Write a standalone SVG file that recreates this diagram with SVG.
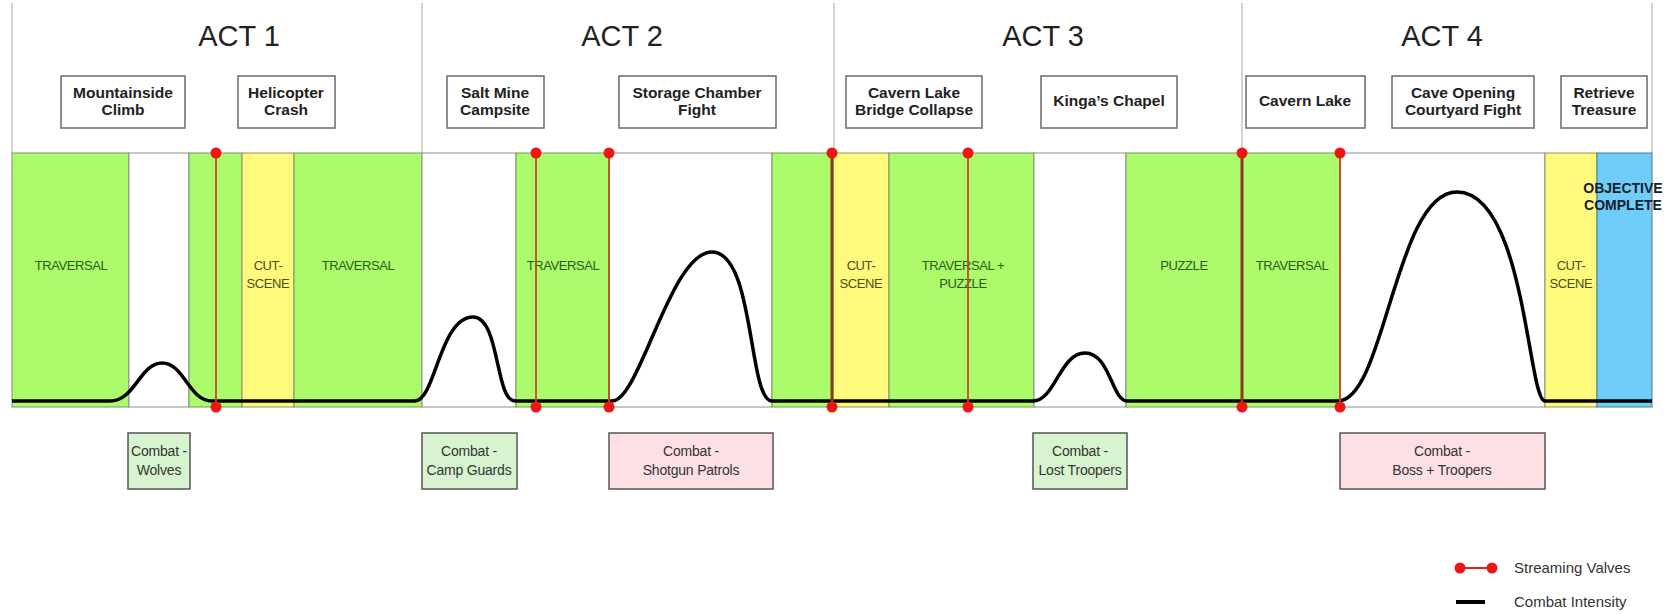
<svg xmlns="http://www.w3.org/2000/svg" width="1677" height="614" viewBox="0 0 1677 614">
<defs>
<style>
.bg{fill:#ffffff}
.div{stroke:#c4c4c4;stroke-width:1.5;fill:none}
.g{fill:#abfb6b;stroke:#7d8f6c;stroke-width:1}
.y{fill:#fff97c;stroke:#8d8f6c;stroke-width:1}
.b{fill:#6fcdf7;stroke:#4c7a8f;stroke-width:1}
.w{fill:#ffffff;stroke:#8e8e8e;stroke-width:1}
.act{font-family:"Liberation Sans",Arial,sans-serif;font-size:29px;fill:#222;text-anchor:middle}
.tb{fill:#ffffff;stroke:#6a6a6a;stroke-width:1.5}
.tt{font-family:"Liberation Sans",Arial,sans-serif;font-size:15.5px;font-weight:bold;fill:#222;text-anchor:middle}
.st{font-family:"Liberation Sans",Arial,sans-serif;font-size:13px;fill:#2f5a1c;text-anchor:middle;letter-spacing:-0.4px}
.sy{font-family:"Liberation Sans",Arial,sans-serif;font-size:13px;fill:#4d4d1e;text-anchor:middle;letter-spacing:-0.4px}
.obj{font-family:"Liberation Sans",Arial,sans-serif;font-size:14px;font-weight:bold;fill:#14202c;text-anchor:middle}
.cg{fill:#d8f3cf;stroke:#555;stroke-width:1.5}
.cp{fill:#fde0e4;stroke:#555;stroke-width:1.5}
.ct{font-family:"Liberation Sans",Arial,sans-serif;font-size:14px;fill:#333;text-anchor:middle;letter-spacing:-0.2px}
.valve{stroke:#c8461e;stroke-width:1.8}
.valveb{stroke:#8a3a1c;stroke-width:3}
.dot{fill:#ee1515}
.curve{fill:none;stroke:#000;stroke-width:3.5;stroke-linejoin:round}
.leg{font-family:"Liberation Sans",Arial,sans-serif;font-size:15px;fill:#333}
</style>
</defs>
<rect class="bg" x="0" y="0" width="1677" height="614"/>

<g id="act-dividers">
<line class="div" x1="12" y1="3" x2="12" y2="153"/>
<line class="div" x1="422" y1="3" x2="422" y2="153"/>
<line class="div" x1="834" y1="3" x2="834" y2="153"/>
<line class="div" x1="1242" y1="3" x2="1242" y2="153"/>
<line class="div" x1="1652" y1="3" x2="1652" y2="153"/>
</g>

<g id="act-labels">
<text class="act" x="239" y="46">ACT 1</text>
<text class="act" x="622" y="46">ACT 2</text>
<text class="act" x="1043" y="46">ACT 3</text>
<text class="act" x="1442" y="46">ACT 4</text>
</g>

<g id="segments">
<rect class="g" x="12" y="153" width="117" height="254"/>
<rect class="w" x="129" y="153" width="60" height="254"/>
<rect class="g" x="189" y="153" width="53" height="254"/>
<rect class="y" x="242" y="153" width="52" height="254"/>
<rect class="g" x="294" y="153" width="128" height="254"/>
<rect class="w" x="422" y="153" width="94" height="254"/>
<rect class="g" x="516" y="153" width="93" height="254"/>
<rect class="w" x="609" y="153" width="163" height="254"/>
<rect class="g" x="772" y="153" width="61" height="254"/>
<rect class="y" x="833" y="153" width="56" height="254"/>
<rect class="g" x="889" y="153" width="145" height="254"/>
<rect class="w" x="1034" y="153" width="92" height="254"/>
<rect class="g" x="1126" y="153" width="116" height="254"/>
<rect class="g" x="1242" y="153" width="98" height="254"/>
<rect class="w" x="1340" y="153" width="205" height="254"/>
<rect class="y" x="1545" y="153" width="52" height="254"/>
<rect class="b" x="1597" y="153" width="55" height="254"/>
</g>

<g id="segment-labels">
<text class="st" x="71" y="270">TRAVERSAL</text>
<text class="sy" x="268" y="270">CUT-</text>
<text class="sy" x="268" y="288">SCENE</text>
<text class="st" x="358" y="270">TRAVERSAL</text>
<text class="st" x="563" y="270">TRAVERSAL</text>
<text class="sy" x="861" y="270">CUT-</text>
<text class="sy" x="861" y="288">SCENE</text>
<text class="st" x="963" y="270">TRAVERSAL +</text>
<text class="st" x="963" y="288">PUZZLE</text>
<text class="st" x="1184" y="270">PUZZLE</text>
<text class="st" x="1292" y="270">TRAVERSAL</text>
<text class="sy" x="1571" y="270">CUT-</text>
<text class="sy" x="1571" y="288">SCENE</text>
<text class="obj" x="1623" y="193">OBJECTIVE</text>
<text class="obj" x="1623" y="210">COMPLETE</text>
</g>

<g id="connectors">
<path id="combat-intensity" class="curve" d="M12,401 L110,401 C135,401 140,363 162,363 C184,363 189,401 212,401 L415,401 C435,401 440,317 473,317 C500,317 495,401 515,401 L612,401 C640,401 670,252 712,252 C755,252 748,401 772,401 L1033,401 C1055,401 1060,353 1085,353 C1110,353 1112,401 1127,401 L1338,401 C1385,401 1395,192 1457,192 C1525,192 1528,401 1545,401 L1652,401"/>
<g id="streaming-valves">
<line class="valve" x1="216" y1="153" x2="216" y2="407"/>
<line class="valve" x1="536" y1="153" x2="536" y2="407"/>
<line class="valve" x1="609" y1="153" x2="609" y2="407"/>
<line class="valveb" x1="832" y1="153" x2="832" y2="407"/>
<line class="valve" x1="968" y1="153" x2="968" y2="407"/>
<line class="valveb" x1="1242" y1="153" x2="1242" y2="407"/>
<line class="valve" x1="1340" y1="153" x2="1340" y2="407"/>
<circle class="dot" cx="216" cy="153" r="5.5"/><circle class="dot" cx="216" cy="407" r="5.5"/>
<circle class="dot" cx="536" cy="153" r="5.5"/><circle class="dot" cx="536" cy="407" r="5.5"/>
<circle class="dot" cx="609" cy="153" r="5.5"/><circle class="dot" cx="609" cy="407" r="5.5"/>
<circle class="dot" cx="832" cy="153" r="5.5"/><circle class="dot" cx="832" cy="407" r="5.5"/>
<circle class="dot" cx="968" cy="153" r="5.5"/><circle class="dot" cx="968" cy="407" r="5.5"/>
<circle class="dot" cx="1242" cy="153" r="5.5"/><circle class="dot" cx="1242" cy="407" r="5.5"/>
<circle class="dot" cx="1340" cy="153" r="5.5"/><circle class="dot" cx="1340" cy="407" r="5.5"/>
</g>
</g>

<g id="node-mountainside"><rect class="tb" x="61" y="76" width="124" height="52"/><text class="tt" x="123" y="98">Mountainside</text><text class="tt" x="123" y="115">Climb</text></g>
<g id="node-helicopter"><rect class="tb" x="238" y="76" width="97" height="52"/><text class="tt" x="286" y="98">Helicopter</text><text class="tt" x="286" y="115">Crash</text></g>
<g id="node-saltmine"><rect class="tb" x="447" y="76" width="97" height="52"/><text class="tt" x="495" y="98">Salt Mine</text><text class="tt" x="495" y="115">Campsite</text></g>
<g id="node-storage"><rect class="tb" x="619" y="76" width="157" height="52"/><text class="tt" x="697" y="98">Storage Chamber</text><text class="tt" x="697" y="115">Fight</text></g>
<g id="node-bridge"><rect class="tb" x="846" y="76" width="136" height="52"/><text class="tt" x="914" y="98">Cavern Lake</text><text class="tt" x="914" y="115">Bridge Collapse</text></g>
<g id="node-chapel"><rect class="tb" x="1041" y="76" width="136" height="52"/><text class="tt" x="1109" y="106">Kinga’s Chapel</text></g>
<g id="node-cavernlake"><rect class="tb" x="1246" y="76" width="119" height="52"/><text class="tt" x="1305" y="106">Cavern Lake</text></g>
<g id="node-caveopening"><rect class="tb" x="1392" y="76" width="142" height="52"/><text class="tt" x="1463" y="98">Cave Opening</text><text class="tt" x="1463" y="115">Courtyard Fight</text></g>
<g id="node-treasure"><rect class="tb" x="1561" y="76" width="86" height="52"/><text class="tt" x="1604" y="98">Retrieve</text><text class="tt" x="1604" y="115">Treasure</text></g>

<g id="combat-wolves"><rect class="cg" x="128" y="433" width="62" height="56"/><text class="ct" x="159" y="456">Combat -</text><text class="ct" x="159" y="475">Wolves</text></g>
<g id="combat-campguards"><rect class="cg" x="422" y="433" width="95" height="56"/><text class="ct" x="469" y="456">Combat -</text><text class="ct" x="469" y="475">Camp Guards</text></g>
<g id="combat-shotgun"><rect class="cp" x="609" y="433" width="164" height="56"/><text class="ct" x="691" y="456">Combat -</text><text class="ct" x="691" y="475">Shotgun Patrols</text></g>
<g id="combat-losttroopers"><rect class="cg" x="1033" y="433" width="94" height="56"/><text class="ct" x="1080" y="456">Combat -</text><text class="ct" x="1080" y="475">Lost Troopers</text></g>
<g id="combat-boss"><rect class="cp" x="1340" y="433" width="205" height="56"/><text class="ct" x="1442" y="456">Combat -</text><text class="ct" x="1442" y="475">Boss + Troopers</text></g>

<g id="legend">
<line x1="1460" y1="568" x2="1492" y2="568" stroke="#e02020" stroke-width="2"/>
<circle class="dot" cx="1460" cy="568" r="5.5"/><circle class="dot" cx="1492" cy="568" r="5.5"/>
<text class="leg" x="1514" y="573">Streaming Valves</text>
<line x1="1456" y1="602" x2="1485" y2="602" stroke="#000" stroke-width="4"/>
<text class="leg" x="1514" y="607">Combat Intensity</text>
</g>
</svg>
